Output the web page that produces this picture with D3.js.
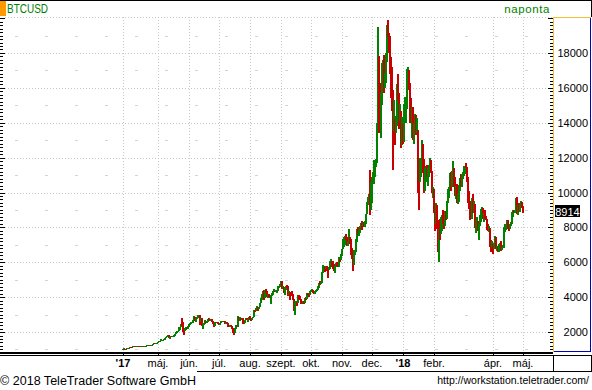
<!DOCTYPE html>
<html>
<head>
<meta charset="utf-8">
<script src="https://cdn.jsdelivr.net/npm/d3@7"></script>
<style>
  body { margin: 0; background: #fff; }
  svg { display: block; font-family: "Liberation Sans", Arial, sans-serif; }
</style>
</head>
<body>
<svg id="chart" width="592" height="390"></svg>
<script>
// daily candles, rows are [high, low, close]; open = previous close
const firstOpen = 970;
const mar17 = [[1045,965,1040],[1060,1010,1045],[1055,1000,1040],[1050,1020,1035],[1085,1030,1080]];
const apr17 = [[1095,1065,1085],[1105,1075,1100],[1150,1095,1145],[1160,1120,1135],[1140,1110,1125],
  [1195,1120,1190],[1200,1170,1195],[1205,1175,1180],[1215,1175,1205],[1215,1195,1210],
  [1225,1200,1220],[1225,1195,1200],[1210,1160,1170],[1190,1165,1180],[1190,1170,1180],
  [1190,1165,1175],[1210,1170,1200],[1215,1195,1210],[1225,1200,1220],[1255,1215,1250],
  [1260,1235,1250],[1260,1220,1240],[1255,1225,1250],[1260,1235,1250],[1275,1245,1265],
  [1300,1260,1290],[1345,1285,1340],[1345,1295,1325],[1350,1315,1345],[1360,1320,1350]];
const may17 = [[1455,1345,1420],[1470,1410,1450],[1495,1440,1490],[1580,1480,1510],[1560,1500,1510],
  [1560,1510,1545],[1575,1530,1560],[1680,1560,1665],[1720,1640,1710],[1770,1700,1760],
  [1840,1740,1800],[1820,1650,1690],[1760,1620,1750],[1790,1730,1770],[1780,1690,1715],
  [1750,1690,1725],[1820,1720,1800],[1895,1790,1880],[1975,1880,1965],[2060,1960,2040],
  [2080,1980,2040],[2260,2040,2150],[2290,2130,2270],[2480,2270,2440],[2800,2350,2320],
  [2560,1980,2150],[2250,1850,2050],[2230,2060,2200],[2300,2130,2290],[2300,2160,2200],
  [2340,2180,2300]];
const jun17 = [[2450,2300,2420],[2510,2400,2490],[2560,2460,2520],[2560,2490,2530],[2700,2530,2690],
  [2910,2690,2880],[2880,2640,2700],[2800,2600,2790],[2840,2760,2820],[2950,2810,2920],
  [2990,2890,2960],[2970,2400,2650],[2780,2600,2720],[2790,2370,2450],[2500,2150,2450],
  [2520,2400,2500],[2680,2480,2620],[2650,2500,2530],[2640,2520,2600],[2770,2590,2740],
  [2780,2610,2670],[2730,2620,2710],[2760,2690,2730],[2740,2550,2590],[2640,2480,2560],
  [2590,2300,2450],[2600,2350,2580],[2600,2490,2590],[2600,2520,2550],[2570,2460,2480]];
const jul17 = [[2520,2400,2430],[2520,2400,2500],[2620,2490,2570],[2640,2560,2600],[2640,2550,2620],
  [2630,2580,2610],[2610,2480,2500],[2570,2480,2560],[2570,2490,2500],[2530,2310,2380],
  [2400,2260,2330],[2420,2280,2400],[2420,2320,2360],[2370,2160,2230],[2240,1960,1970],
  [2050,1830,1930],[2240,1920,2230],[2380,2190,2320],[2400,2260,2290],[2900,2270,2870],
  [2880,2620,2670],[2850,2650,2810],[2830,2680,2740],[2790,2710,2760],[2780,2480,2580],
  [2610,2460,2560],[2690,2540,2680],[2820,2670,2800],[2810,2680,2730],[2760,2600,2750],
  [2880,2730,2870]];
const aug17 = [[2920,2690,2720],[2760,2660,2700],[2810,2700,2800],[2880,2780,2860],[3280,2860,3250],
  [3290,3170,3220],[3400,3220,3380],[3480,3360,3420],[3430,3220,3340],[3450,3330,3420],
  [3690,3420,3650],[3970,3640,3850],[4180,3850,4060],[4330,3980,4320],[4400,3860,4160],
  [4400,3960,4370],[4480,4240,4280],[4360,3980,4100],[4190,3950,4150],[4170,4000,4060],
  [4090,3950,4000],[4130,3600,4090],[4250,4070,4140],[4340,4100,4320],[4460,4290,4370],
  [4380,4300,4350],[4400,4300,4360],[4400,4230,4390],[4630,4380,4580],[4640,4500,4580],
  [4760,4570,4740]];
const sep17 = [[4900,4700,4880],[4920,4470,4560],[4650,4450,4600],[4600,4250,4330],[4500,4120,4440],
  [4650,4430,4630],[4670,4500,4600],[4660,4080,4230],[4330,4150,4320],[4320,3860,4200],
  [4290,4130,4170],[4370,4080,4160],[4180,3820,3880],[3900,3220,3240],[3760,2970,3700],
  [3800,3560,3700],[3740,3500,3680],[4120,3670,4090],[4100,3850,3900],[4050,3850,3880],
  [3900,3600,3620],[3750,3580,3600],[3800,3580,3780],[3790,3630,3670],[3960,3660,3920],
  [3980,3860,3880],[4240,3880,4200],[4260,4110,4190],[4200,4030,4160],[4370,4150,4340]];
const oct17 = [[4400,4270,4390],[4470,4360,4390],[4430,4230,4300],[4340,4180,4220],[4380,4200,4330],
  [4420,4310,4370],[4460,4330,4440],[4620,4410,4600],[4820,4550,4770],[4920,4710,4760],
  [4880,4760,4830],[5440,4820,5430],[5850,5380,5640],[5800,5560,5800],[5800,5450,5680],
  [5770,5600,5750],[5780,5520,5600],[5600,5120,5570],[5720,5540,5690],[6070,5620,5980],
  [6180,5900,6010],[6050,5700,5980],[6050,5600,5900],[5920,5480,5510],[5760,5400,5730],
  [5980,5700,5890],[6000,5800,5770],[5880,5700,5730],[6280,5710,6140],[6200,6040,6130],
  [6460,6110,6450]];
const nov17 = [[6750,6380,6740],[7340,6740,7030],[7450,6900,7170],[7480,6980,7400],[7600,7290,7390],
  [7420,6960,6990],[7200,6960,7130],[7880,7050,7460],[7460,7060,7140],[7320,6400,6580],
  [6800,6200,6340],[6580,5500,5870],[6700,5860,6530],[6700,6420,6600],[7330,6600,7280],
  [7900,7150,7840],[8000,7540,7700],[7850,7500,7780],[8100,7700,8040],[8260,7960,8200],
  [8340,7830,8100],[8300,8090,8250],[8300,8050,8100],[8350,8000,8230],[8750,8200,8750],
  [9450,8740,9300],[9730,9350,9700],[9930,9600,9900],[11300,8700,9840],[10600,9000,9950]];
const dec17 = [[10900,9420,10860],[11180,10690,10910],[11850,10500,11240],[11600,10900,11600],[11900,11440,11700],
  [14000,11700,13800],[19500,13500,16800],[17800,13400,16050],[16300,13500,14850],[15700,13100,15000],
  [17400,15000,16750],[17600,16200,17300],[17900,15700,16450],[16850,16000,16500],[17980,16300,17600],
  [19600,17500,19200],[19900,18900,19050],[19150,18000,18900],[18950,16800,17300],[17750,15400,16500],
  [17200,14700,15600],[15900,11300,13800],[15300,13500,14000],[14200,12700,13900],[14400,13400,13900],
  [16200,13800,16000],[16800,15300,15600],[15700,13650,14400],[15100,14100,14550],[14650,12550,12700],
  [14350,12750,13850]];
const jan18 = [[13900,12800,13400],[15100,12900,14800],[15500,14700,15100],[15400,14000,15100],[17100,14800,16900],
  [17200,16300,17000],[17000,15900,16150],[16300,14000,14900],[15400,14500,14500],[14900,13100,14800],
  [14900,13000,13300],[14000,12800,13850],[14500,13800,14200],[14450,13300,13600],[14300,13400,13600],
  [13600,10000,11300],[11650,9000,11100],[12000,10600,11200],[11800,10900,11600],[13000,11500,12800],
  [12800,11100,11500],[11900,10000,10750],[11400,10100,10900],[11500,10600,11300],[11600,10900,11100],
  [11400,10400,11100],[11600,10900,11400],[12000,11300,11750],[11850,11100,11200],[11250,9950,10100],
  [10300,9700,10200]];
const feb18 = [[10200,8800,9100],[9100,7800,8800],[9400,8200,9200],[9300,7900,8200],[8400,6600,6900],
  [7900,6000,7700],[8500,7300,7600],[8600,7600,8250],[8700,7800,8700],[9000,8200,8500],
  [8600,7900,8100],[8950,8100,8900],[8930,8400,8500],[9500,8500,9450],[10200,9400,10000],
  [10300,9700,10200],[11100,10100,11050],[11200,10100,10400],[11250,10300,11100],[11800,11000,11400],
  [11300,10300,10500],[10900,9800,9850],[10400,9600,10200],[10500,9400,9700],[9900,9350,9700],
  [10450,9450,10300],[10850,10100,10600],[11050,10300,10300]];
const mar18 = [[11050,10300,10900],[11150,10800,11000],[11500,10950,11400],[11500,11050,11500],[11700,11400,11450],
  [11450,10600,10700],[10900,9400,9900],[10100,9050,9300],[9400,8400,9200],[9500,8700,8800],
  [9700,8500,9550],[9900,8800,9150],[9500,8850,9150],[9350,7950,8200],[8400,7700,8250],
  [8600,7950,8300],[8350,7800,7900],[8200,7300,8200],[8700,8100,8600],[9050,8300,8900],
  [9180,8750,8900],[9100,8500,8700],[8800,8300,8700],[9000,8500,8500],[8650,8400,8450],
  [8500,7850,8150],[8200,7800,7800],[8100,7750,7950],[7980,6900,7100],[7300,6600,6850],
  [7200,6850,6950]];
const apr18 = [[7050,6450,6800],[7100,6750,7050],[7500,7000,7400],[7420,6750,6800],[6950,6650,6800],
  [6860,6560,6600],[7050,6600,6900],[7100,6900,7050],[7200,6650,6750],[6900,6700,6850],
  [6990,6820,6950],[8000,6800,7900],[8200,7750,7900],[8150,7830,8000],[8400,8000,8350],
  [8420,7900,8050],[8180,7800,7900],[8200,7880,8170],[8300,8100,8280],[8900,8200,8850],
  [9000,8600,8920],[9000,8800,8800],[9000,8800,8950],[9700,8950,9650],[9750,8750,8870],
  [9300,8700,9270],[9380,8900,8950],[9400,8900,9350],[9500,9200,9400],[9450,9100,9250]];
const may18 = [[9250,8850,8914]];

const monthStarts = [[2017,2,27],[2017,3,1],[2017,4,1],[2017,5,1],[2017,6,1],[2017,7,1],[2017,8,1],
  [2017,9,1],[2017,10,1],[2017,11,1],[2018,0,1],[2018,1,1],[2018,2,1],[2018,3,1],[2018,4,1]];
const monthRows = [mar17, apr17, may17, jun17, jul17, aug17, sep17, oct17, nov17, dec17, jan18, feb18, mar18, apr18, may18];

const tickDates = [[2017,2,27],[2017,4,1],[2017,5,1],[2017,6,1],[2017,7,1],[2017,8,1],[2017,9,1],
  [2017,10,1],[2017,11,1],[2018,0,1],[2018,1,1],[2018,3,1],[2018,4,1]];
const tickLabels = ["'17","máj.","jún.","júl.","aug.","szept.","okt.","nov.","dec.","'18","febr.","ápr.","máj."];
const yLabels = [2000, 4000, 6000, 8000, 10000, 12000, 14000, 16000, 18000];
const lastPrice = 8914;

// build candles
const candles = [];
let prev = firstOpen;
monthRows.forEach((rows, m) => {
  const s = monthStarts[m];
  rows.forEach((r, i) => {
    candles.push({ date: new Date(s[0], s[1], s[2] + i), open: prev, high: r[0], low: r[1], close: r[2] });
    prev = r[2];
  });
});

const svg = d3.select("#chart");
const plotL = 5, plotR = 553, plotT = 17, plotB = 352;

const x = d3.scaleTime()
  .domain([new Date(2017, 2, 27), new Date(2018, 4, 1)])
  .range([123, 523]);
const y = d3.scaleLinear().domain([0, 20000]).range([366.9, 18.1]);

svg.append("rect").attr("width", 592).attr("height", 390).attr("fill", "#fff");

// grid
const grid = svg.append("g").attr("shape-rendering", "crispEdges");
grid.selectAll(".hdot").data([...yLabels, 20063]).enter().append("line")
  .attr("x1", plotL).attr("x2", plotR)
  .attr("y1", d => d === 20063 ? plotT + 0.5 : Math.round(y(d)) + 0.5)
  .attr("y2", d => d === 20063 ? plotT + 0.5 : Math.round(y(d)) + 0.5)
  .attr("stroke", "#c8c8c8").attr("stroke-dasharray", "1,2");
grid.selectAll(".hdash").data(d3.range(1000, 20000, 2000)).enter().append("line")
  .attr("x1", 0).attr("x2", plotR - 5)
  .attr("y1", d => Math.round(y(d)) + 0.5).attr("y2", d => Math.round(y(d)) + 0.5)
  .attr("stroke", "#d4d4d4").attr("stroke-dasharray", "0,15,3,12");
const tickD = tickDates.map(t => new Date(t[0], t[1], t[2]));
grid.selectAll(".vdot").data(tickD).enter().append("line")
  .attr("x1", d => Math.round(x(d)) + 0.5).attr("x2", d => Math.round(x(d)) + 0.5)
  .attr("y1", plotT).attr("y2", plotB)
  .attr("stroke", "#c8c8c8").attr("stroke-dasharray", "1,2");

// candles: 2px bars from low to high, coloured by direction
const up = "#008200", down = "#c80000";
const cg = svg.append("g").attr("shape-rendering", "crispEdges");
cg.selectAll(".bar").data(candles).enter().append("rect")
  .attr("x", d => Math.round(x(d.date)) - 1)
  .attr("width", 2)
  .attr("y", d => y(Math.max(d.high, d.open, d.close)))
  .attr("height", d => Math.max(1, y(Math.min(d.low, d.open, d.close)) - y(Math.max(d.high, d.open, d.close))))
  .attr("fill", d => d.close >= d.open ? up : down);

// frame
const fr = svg.append("g").attr("shape-rendering", "crispEdges").attr("fill", "none");
fr.append("line").attr("x1", 0).attr("x2", 592).attr("y1", 0.5).attr("y2", 0.5).attr("stroke", "#000");
fr.append("line").attr("x1", 591.5).attr("x2", 591.5).attr("y1", 0).attr("y2", 17).attr("stroke", "#000");
svg.append("rect").attr("x", 0).attr("y", 1).attr("width", 6).attr("height", 15).attr("fill", "#ff9900");

// right axis panel
fr.append("line").attr("x1", 553.5).attr("x2", 553.5).attr("y1", 17).attr("y2", 352).attr("stroke", "#f0c030");
fr.append("line").attr("x1", 553).attr("x2", 591).attr("y1", 17.5).attr("y2", 17.5).attr("stroke", "#f0c030");
fr.append("line").attr("x1", 590.5).attr("x2", 590.5).attr("y1", 18).attr("y2", 352).attr("stroke", "#0000c0");
fr.append("line").attr("x1", 554).attr("x2", 591).attr("y1", 351.5).attr("y2", 351.5).attr("stroke", "#0000c0");

// minor ticks left and right
const minor = d3.range(1000, 20001, 200).filter(v => y(v) > plotT && y(v) < plotB);
fr.selectAll(".lt").data(minor).enter().append("line")
  .attr("x1", 0).attr("x2", d => d % 2000 === 0 ? 5 : 3)
  .attr("y1", d => Math.round(y(d)) + 0.5).attr("y2", d => Math.round(y(d)) + 0.5)
  .attr("stroke", "#000");
fr.selectAll(".rt").data(minor).enter().append("line")
  .attr("x1", d => d % 2000 === 0 ? 548 : 550).attr("x2", 553)
  .attr("y1", d => Math.round(y(d)) + 0.5).attr("y2", d => Math.round(y(d)) + 0.5)
  .attr("stroke", "#000");

// bottom axis band
fr.append("rect").attr("x", 0).attr("y", 352).attr("width", 553).attr("height", 2).attr("fill", "#000");
fr.append("line").attr("x1", 0).attr("x2", 592).attr("y1", 355.5).attr("y2", 355.5).attr("stroke", "#000");
fr.selectAll(".xt").data(tickD).enter().append("line")
  .attr("x1", d => Math.round(x(d)) + 0.5).attr("x2", d => Math.round(x(d)) + 0.5)
  .attr("y1", 353).attr("y2", 356).attr("stroke", "#000");
fr.append("line").attr("x1", 553.5).attr("x2", 553.5).attr("y1", 355).attr("y2", 371).attr("stroke", "#000");
fr.append("line").attr("x1", 591.5).attr("x2", 591.5).attr("y1", 355).attr("y2", 371).attr("stroke", "#000");
fr.append("line").attr("x1", 197).attr("x2", 592).attr("y1", 371.5).attr("y2", 371.5).attr("stroke", "#000");

// texts
svg.append("text").attr("x", 7).attr("y", 13).attr("fill", "#008000")
  .attr("font-size", 12).attr("textLength", 41).attr("lengthAdjust", "spacingAndGlyphs").text("BTCUSD");
svg.append("text").attr("x", 550).attr("y", 13).attr("fill", "#008000").attr("text-anchor", "end")
  .attr("font-size", 11.5).attr("letter-spacing", 0.6).text("naponta");

svg.selectAll(".yl").data(yLabels).enter().append("text")
  .attr("x", 588).attr("y", d => y(d) + 4).attr("text-anchor", "end")
  .attr("font-size", 11).attr("fill", "#000").text(d => d);

svg.selectAll(".xl").data(tickD).enter().append("text")
  .attr("x", d => x(d)).attr("y", 367).attr("text-anchor", "middle")
  .attr("font-size", 11).attr("fill", "#000")
  .attr("font-weight", (d, i) => tickLabels[i].startsWith("'") ? "bold" : "normal")
  .text((d, i) => tickLabels[i]);

const ly = Math.round(y(lastPrice));
svg.append("rect").attr("x", 555).attr("y", ly - 6).attr("width", 25).attr("height", 12).attr("fill", "#000");
svg.append("text").attr("x", 567.5).attr("y", ly + 4.5).attr("text-anchor", "middle")
  .attr("font-size", 11).attr("fill", "#fff").text(lastPrice);

svg.append("text").attr("x", 0).attr("y", 385).attr("font-size", 12.5)
  .attr("textLength", 196).attr("lengthAdjust", "spacingAndGlyphs").text("© 2018 TeleTrader Software GmbH");
svg.append("text").attr("x", 589).attr("y", 384).attr("font-size", 10.5).attr("text-anchor", "end")
  .text("http://workstation.teletrader.com/");
</script>
</body>
</html>
